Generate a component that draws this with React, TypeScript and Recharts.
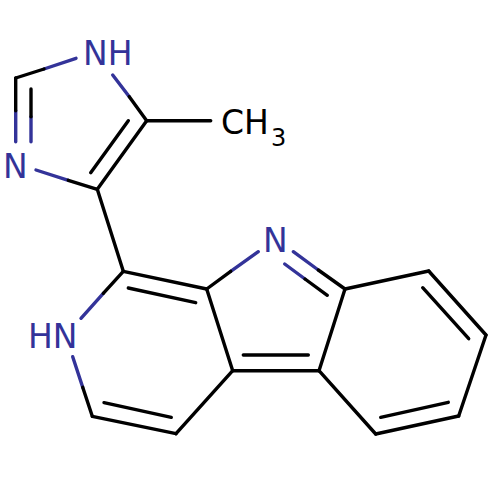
import { ComposedChart, Line, XAxis, YAxis, LabelList } from 'recharts';

type Pt = { x: number; y: number };

// bonds, in picture pixels (y grows downward)
const blackBonds: number[][] = [
  [15.7, 78, 44, 69],
  [15.7, 78, 15.7, 110.7],
  [31, 89, 31, 116.7],
  [129.3, 96.7, 146.7, 120.7],
  [146.7, 120.7, 210.7, 120.7],
  [146.7, 120.7, 97.3, 189.3],
  [128.3, 120.7, 90.7, 172.7],
  [68.3, 180.3, 97.3, 189.3],
  [97.3, 189.3, 123.3, 271.3],
  [123.3, 271.3, 206.7, 289],
  [128.3, 288, 195.7, 302.7],
  [123.3, 271.3, 103.3, 293.3],
  [82.7, 387.3, 92.3, 416.3],
  [92.3, 416.3, 176, 433.7],
  [104, 402.7, 171.3, 417.3],
  [176, 433.7, 232.7, 370.7],
  [206.7, 289, 232.7, 370.7],
  [232.7, 370.7, 319, 370.7],
  [243.3, 355, 308.3, 355],
  [319, 370.7, 345, 289],
  [206.7, 289, 230.7, 271.3],
  [318.3, 270, 345, 289],
  [305, 279, 327.3, 295.3],
  [345, 289, 428.7, 271],
  [428.7, 271, 486, 335],
  [422.7, 287.7, 468.7, 338.7],
  [486, 335, 458.7, 416],
  [458.7, 416, 375.7, 434],
  [448.3, 402.3, 380.7, 417.3],
  [375.7, 434, 319, 370.7],
];

const blueBonds: number[][] = [
  [44, 69, 76, 58.3],
  [15.7, 110.7, 15.7, 141.7],
  [31, 116.7, 31, 141.7],
  [112.7, 75, 129.3, 96.7],
  [36, 170, 68.3, 180.3],
  [103.3, 293.3, 81, 318.3],
  [72.7, 356.7, 82.7, 387.3],
  [230.7, 271.3, 258.3, 251.7],
  [293.3, 251.7, 318.3, 270],
  [284.7, 264, 305, 279],
];

const atomLabels = [
  { x: 83, y: 65, text: 'NH' },
  { x: 3, y: 178, text: 'N' },
  { x: 28, y: 348, text: 'HN' },
  { x: 263, y: 252, text: 'N' },
];
const carbonLabels = [{ x: 221, y: 134, text: 'CH' }];
const subscriptLabels = [{ x: 271, y: 146, text: '3' }];

const BLACK = '#000000';
const BLUE = '#333399';
const FONT = '"DejaVu Sans", sans-serif';

const toPoints = (b: number[]): Pt[] => [
  { x: b[0], y: b[1] },
  { x: b[2], y: b[3] },
];

const labelContent = (fill: string, size: number) => (props: any) => (
  <text x={props.x} y={props.y} fill={fill} fontSize={size} fontFamily={FONT} textAnchor="start">
    {props.value}
  </text>
);

const bondLine = (b: number[], color: string, key: string) => (
  <Line
    key={key}
    data={toPoints(b)}
    dataKey="y"
    type="linear"
    stroke={color}
    strokeWidth={3.4}
    strokeLinecap="round"
    dot={false}
    activeDot={false}
    isAnimationActive={false}
  />
);

const labelLine = (data: any[], fill: string, size: number, key: string) => (
  <Line
    key={key}
    data={data}
    dataKey="y"
    stroke="none"
    dot={false}
    activeDot={false}
    isAnimationActive={false}
  >
    <LabelList dataKey="text" content={labelContent(fill, size)} />
  </Line>
);

export default function App() {
  return (
    <div style={{ position: 'absolute', left: 0, top: 0, width: 500, height: 500, background: '#fff' }}>
      <ComposedChart width={500} height={500} margin={{ top: 0, right: 0, bottom: 0, left: 0 }}>
        <XAxis type="number" dataKey="x" domain={[0, 500]} hide allowDataOverflow />
        <YAxis type="number" domain={[0, 500]} reversed hide allowDataOverflow />
        {blueBonds.map((b, i) => bondLine(b, BLUE, `blue-${i}`))}
        {blackBonds.map((b, i) => bondLine(b, BLACK, `black-${i}`))}
        {labelLine(atomLabels, BLUE, 33, 'atoms')}
        {labelLine(carbonLabels, BLACK, 33, 'carbon')}
        {labelLine(subscriptLabels, BLACK, 24, 'sub')}
      </ComposedChart>
    </div>
  );
}
